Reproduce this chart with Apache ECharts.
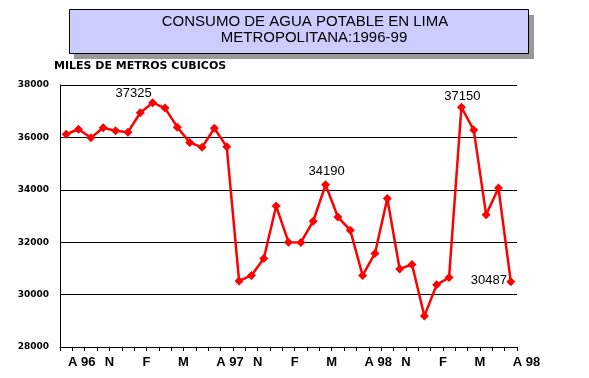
<!DOCTYPE html>
<html>
<head>
<meta charset="utf-8">
<script src="https://cdn.jsdelivr.net/npm/echarts@6/dist/echarts.min.js"></script>
<style>
  html, body { margin: 0; padding: 0; background: #fff; }
  #main { width: 589px; height: 378px; }
</style>
</head>
<body>
<div id="main"></div>
<script>
// consumo mensual, miles de m3 (37 meses)
var values = [36120, 36310, 35990, 36370, 36250, 36200, 36940, 37325, 37120, 36390,
              35810, 35620, 36350, 35640, 30520, 30730, 31380, 33380, 32000, 31990,
              32800, 34190, 32960, 32460, 30730, 31570, 33670, 30980, 31150, 29180,
              30380, 30650, 37150, 36280, 33050, 34070, 30487];
var tickPos = [1, 4, 7, 10, 13, 16, 19, 22, 25, 28, 31, 34, 37];
var tickLabels = ['A 96', 'N', 'F', 'M', 'A 97', 'N', 'F', 'M', 'A 98', 'N', 'F', 'M', 'A 98'];
var labeledIdx = [7, 21, 32, 36];
var yTicks = [28000, 30000, 32000, 34000, 36000, 38000];
var titleLines = ['CONSUMO DE AGUA POTABLE EN LIMA', 'METROPOLITANA:1996-99'];
var unitText = 'MILES DE METROS CUBICOS';

// label offsets (relative to point centre)
var labelOffsets = {7: [-19, -9], 21: [1, -13], 32: [1, -11], 36: [-22, -1]};

var seriesData = values.map(function (v, i) {
    var item = {value: [i + 0.5, v]};
    if (labeledIdx.indexOf(i) >= 0) {
        item.label = {
            show: true,
            position: 'inside',
            offset: labelOffsets[i],
            formatter: String(v),
            color: '#000',
            fontFamily: 'Liberation Sans, Arial',
            fontSize: 13
        };
    }
    return item;
});

var titleFont = {fontFamily: 'Liberation Sans, Arial', fontSize: 15, fill: '#000', align: 'center', verticalAlign: 'middle'};

var myChart = echarts.init(document.getElementById('main'), null, {renderer: 'canvas'});

myChart.setOption({
    animation: false,
    backgroundColor: '#fff',
    grid: {left: 60, right: 72, top: 85, bottom: 31},
    graphic: [
        {type: 'rect', z: 0, shape: {x: 74, y: 15, width: 460, height: 44}, style: {fill: '#999999'}},
        {type: 'rect', z: 1, shape: {x: 69.5, y: 9.5, width: 459, height: 44}, style: {fill: '#ccccff', stroke: '#000', lineWidth: 1}},
        {type: 'text', z: 2, x: 305, y: 22, style: Object.assign({text: titleLines[0]}, titleFont)},
        {type: 'text', z: 2, x: 314, y: 38, style: Object.assign({text: titleLines[1]}, titleFont)},
        {
            type: 'text', x: 54, y: 66,
            style: {
                text: unitText,
                verticalAlign: 'middle',
                fontFamily: 'DejaVu Sans', fontWeight: 'bold', fontSize: 11, fill: '#000'
            }
        }
    ],
    xAxis: {
        type: 'value',
        min: 0,
        max: 37,
        interval: 1,
        splitLine: {show: false},
        axisLine: {lineStyle: {color: '#000', width: 1}},
        axisTick: {show: true, length: 4, lineStyle: {color: '#000'}},
        axisLabel: {
            margin: 9,
            color: '#000',
            fontFamily: 'Liberation Sans, Arial',
            fontWeight: 'bold',
            fontSize: 13,
            formatter: function (val) {
                var k = tickPos.indexOf(Math.round(val));
                if (k < 0) return '';
                var t = tickLabels[k];
                return t.charAt(0) === 'A' ? '{a|' + t + '}' : t;
            },
            rich: {
                a: {
                    padding: [0, 0, 0, 19],
                    color: '#000',
                    fontFamily: 'Liberation Sans, Arial',
                    fontWeight: 'bold',
                    fontSize: 13
                }
            }
        }
    },
    yAxis: {
        type: 'value',
        min: yTicks[0],
        max: yTicks[yTicks.length - 1],
        interval: 2000,
        axisLine: {show: true, lineStyle: {color: '#000', width: 1}},
        axisTick: {show: false},
        splitLine: {lineStyle: {color: '#000', width: 1}},
        axisLabel: {
            margin: 11,
            color: '#000',
            fontFamily: 'DejaVu Sans',
            fontWeight: 'bold',
            fontSize: 9,
            formatter: function (v) { return String(v); }
        }
    },
    series: [{
        type: 'line',
        data: seriesData,
        symbol: 'diamond',
        symbolSize: 9,
        showAllSymbol: true,
        itemStyle: {color: '#ff0000'},
        lineStyle: {color: '#ff0000', width: 2.5},
        label: {show: false}
    }]
});
</script>
</body>
</html>
